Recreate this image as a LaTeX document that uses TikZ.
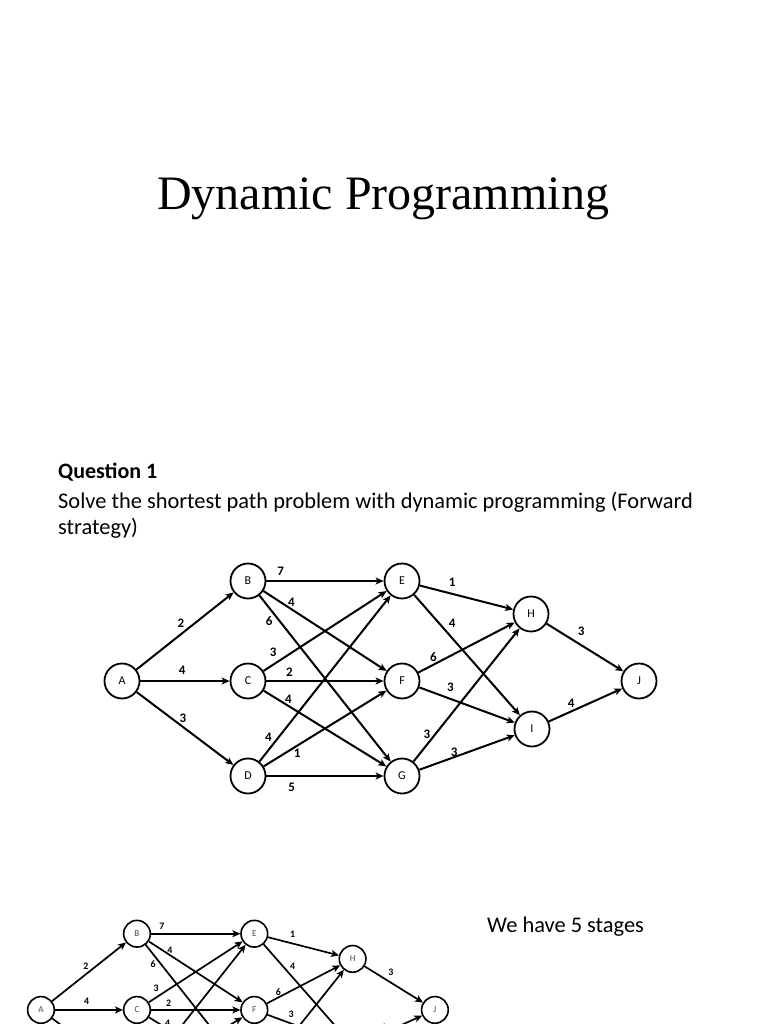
\documentclass[tikz,border=0pt]{standalone}
\usepackage{fontspec}
\setmainfont{Carlito}
\newfontfamily\titlefont{Liberation Serif}
\usetikzlibrary{arrows.meta}
\newcommand\dpgraph[1]{%
\node[gnode] (#1A) at (122,681) {A};
\node[gnode] (#1B) at (248,581) {B};
\node[gnode] (#1C) at (248,681) {C};
\node[gnode] (#1D) at (248,776) {D};
\node[gnode] (#1E) at (402,581) {E};
\node[gnode] (#1F) at (402,681) {F};
\node[gnode] (#1G) at (402,776) {G};
\node[gnode] (#1H) at (531,614) {H};
\node[gnode] (#1I) at (532,729) {I};
\node[gnode] (#1J) at (639,681) {J};
\draw[gedge] (#1A) -- node[glab,pos=.459,shift={(0,-11)}]{2} (#1B);
\draw[gedge] (#1A) -- node[glab,pos=.467,shift={(0,-11)}]{4} (#1C);
\draw[gedge] (#1A) -- node[glab,pos=.479,shift={(0,-9)}]{3} (#1D);
\draw[gedge] (#1B) -- node[glab,pos=.122,shift={(0,-10)}]{7} (#1E);
\draw[gedge] (#1B) -- node[glab,pos=.227,shift={(0,-7)}]{4} (#1F);
\draw[gedge] (#1B) -- node[glab,pos=.151,shift={(-10,1)}]{6} (#1G);
\draw[gedge] (#1C) -- node[glab,pos=.08,shift={(0,-12)}]{3} (#1E);
\draw[gedge] (#1C) -- node[glab,pos=.197,shift={(0,-9)}]{2} (#1F);
\draw[gedge] (#1C) -- node[glab,pos=.202,shift={(0,-7)}]{4} (#1G);
\draw[gedge] (#1D) -- node[glab,pos=.145,shift={(-10,0)}]{4} (#1E);
\draw[gedge] (#1D) -- node[glab,pos=.274,shift={(0,8)}]{1} (#1F);
\draw[gedge] (#1D) -- node[glab,pos=.215,shift={(0,11)}]{5} (#1G);
\draw[gedge] (#1E) -- node[glab,pos=.347,shift={(0,-12)}]{1} (#1H);
\draw[gedge] (#1E) -- node[glab,pos=.36,shift={(0,-15)}]{4} (#1I);
\draw[gedge] (#1F) -- node[glab,pos=.189,shift={(-3,-6)}]{6} (#1H);
\draw[gedge] (#1F) -- node[glab,pos=.325,shift={(0,-12)}]{3} (#1I);
\draw[gedge] (#1G) -- node[glab,pos=.202,shift={(-8,0)}]{3} (#1H);
\draw[gedge] (#1G) -- node[glab,pos=.366,shift={(0,-5)}]{3} (#1I);
\draw[gedge] (#1H) -- node[glab,pos=.449,shift={(0,-14)}]{3} (#1J);
\draw[gedge] (#1I) -- node[glab,pos=.306,shift={(0,-8)}]{4} (#1J);
}
\begin{document}
\begin{tikzpicture}[x=1pt,y=-1pt,
  gnode/.style={circle,draw,line width=1.8pt,minimum size=35pt,inner sep=0pt,
    font=\fontsize{12}{12}\selectfont},
  gedge/.style={line width=2pt,-{Stealth[length=8pt,width=7pt,inset=2pt]}},
  glab/.style={inner sep=0pt,font=\bfseries\fontsize{13}{13}\selectfont},
  body/.style={inner sep=0pt,font=\fontsize{22.4}{26}\selectfont}]
\useasboundingbox (0,0) rectangle (768,1024);
\clip (0,0) rectangle (768,1024);
\fill[white] (0,0) rectangle (768,1024);
\node[inner sep=0pt,anchor=base,font=\titlefont\fontsize{48}{58}\selectfont] (title) at (383,210) {Dynamic Programming};
\node[body,anchor=base west,font=\bfseries\fontsize{22}{26}\selectfont] (q1) at (58,478) {Question 1};
\node[body,anchor=base west,align=left] (task) at (58,534) {Solve the shortest path problem with dynamic programming (Forward\\strategy)};
\dpgraph{m}
\begin{scope}[shift={(-52,491)},scale=0.762,transform shape,
  gnode/.append style={line width=1.6pt,text=black!70},
  gedge/.append style={line width=1.7pt,-{Stealth[length=8pt,width=7pt,inset=2pt]}}]
\dpgraph{s}
\end{scope}
\node[body,anchor=base west] (stages) at (487,932) {We have 5 stages};
\end{tikzpicture}
\end{document}
